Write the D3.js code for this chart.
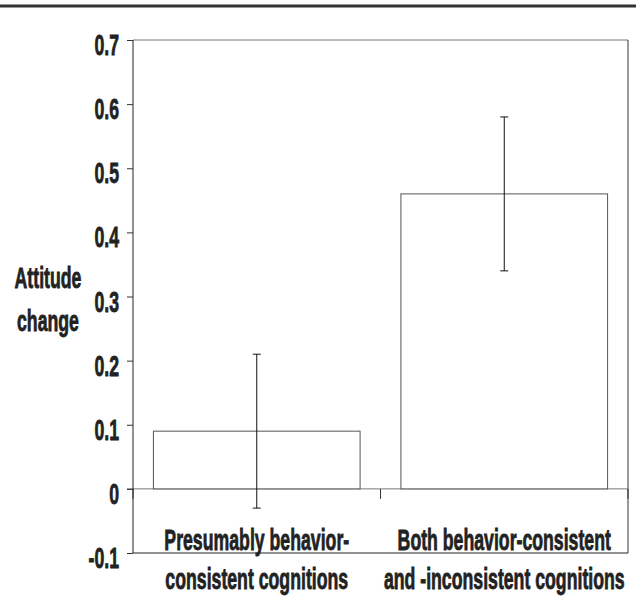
<!DOCTYPE html>
<html>
<head>
<meta charset="utf-8">
<script src="https://cdn.jsdelivr.net/npm/d3@7"></script>
<style>
  body { margin: 0; background: #fff; }
  text { font-family: "Liberation Sans", Arial, sans-serif; font-weight: bold; fill: #222; stroke: #222; stroke-width: 0.8px; }
</style>
</head>
<body>
<svg id="chart" width="636" height="598"></svg>
<script>
// data
const categories = ["Presumably behavior-consistent cognitions", "Both behavior-consistent and -inconsistent cognitions"];
const categoryLines = [
  ["Presumably behavior-", "consistent cognitions"],
  ["Both behavior-consistent", "and -inconsistent cognitions"]
];
const means = [0.09, 0.46];
const errLow = [-0.03, 0.34];
const errHigh = [0.21, 0.58];
const yTicks = [-0.1, 0, 0.1, 0.2, 0.3, 0.4, 0.5, 0.6, 0.7];
const yLabel = ["Attitude", "change"];

const W = 636, H = 598;
const margin = { top: 40, right: 8, bottom: 45, left: 133 };
const fontSize = 29;
const squeeze = 0.61; // condensed type

const svg = d3.select("#chart");

// rule across the top of the page
svg.append("line")
  .attr("x1", 0).attr("x2", W)
  .attr("y1", 6).attr("y2", 6)
  .attr("stroke", "#333")
  .attr("stroke-width", 3);

const x = d3.scaleBand()
  .domain(categories)
  .range([margin.left, W - margin.right])
  .paddingInner(0.165)
  .paddingOuter(0.0825);

const y = d3.scaleLinear()
  .domain([-0.1, 0.7])
  .range([H - margin.bottom, margin.top]);

// frame: top, right, bottom
svg.append("line")
  .attr("x1", margin.left).attr("x2", W - margin.right)
  .attr("y1", y(0.7)).attr("y2", y(0.7))
  .attr("stroke", "#777");
svg.append("line")
  .attr("x1", W - margin.right).attr("x2", W - margin.right)
  .attr("y1", y(0.7)).attr("y2", y(-0.1))
  .attr("stroke", "#333");
svg.append("line")
  .attr("x1", margin.left).attr("x2", W - margin.right)
  .attr("y1", y(-0.1)).attr("y2", y(-0.1))
  .attr("stroke", "#222");

// zero line
svg.append("line")
  .attr("x1", margin.left - 6).attr("x2", W - margin.right)
  .attr("y1", y(0)).attr("y2", y(0))
  .attr("stroke", "#777");

// category ticks on the zero line
const bounds = [margin.left, margin.left + x.step(), margin.left + 2 * x.step()];
svg.selectAll(".ctick")
  .data(bounds)
  .join("line")
  .attr("class", "ctick")
  .attr("x1", d => d).attr("x2", d => d)
  .attr("y1", y(0)).attr("y2", y(0) + 10)
  .attr("stroke", "#333");

// bars
svg.selectAll(".bar")
  .data(categories)
  .join("rect")
  .attr("class", "bar")
  .attr("x", d => x(d))
  .attr("width", x.bandwidth())
  .attr("y", (d, i) => y(means[i]))
  .attr("height", (d, i) => y(0) - y(means[i]))
  .attr("fill", "#fff")
  .attr("stroke", "#555");

// error bars
const err = svg.selectAll(".err")
  .data(categories)
  .join("g")
  .attr("class", "err")
  .attr("stroke", "#111");
err.append("line")
  .attr("x1", d => x(d) + x.bandwidth() / 2)
  .attr("x2", d => x(d) + x.bandwidth() / 2)
  .attr("y1", (d, i) => y(errLow[i]))
  .attr("y2", (d, i) => y(errHigh[i]));
err.append("line")
  .attr("x1", d => x(d) + x.bandwidth() / 2 - 4)
  .attr("x2", d => x(d) + x.bandwidth() / 2 + 4)
  .attr("y1", (d, i) => y(errHigh[i]))
  .attr("y2", (d, i) => y(errHigh[i]));
err.append("line")
  .attr("x1", d => x(d) + x.bandwidth() / 2 - 4)
  .attr("x2", d => x(d) + x.bandwidth() / 2 + 4)
  .attr("y1", (d, i) => y(errLow[i]))
  .attr("y2", (d, i) => y(errLow[i]));

// y axis
const yAxis = svg.append("g")
  .attr("transform", `translate(${margin.left},0)`)
  .call(d3.axisLeft(y)
    .tickValues(yTicks)
    .tickSize(6)
    .tickFormat(d => d === 0 ? "0" : d.toFixed(1)));
yAxis.select(".domain").attr("stroke", "#222").attr("d", `M0,${y(0.7)}V${y(-0.1)}`);
yAxis.selectAll(".tick line").attr("stroke", "#333");
yAxis.selectAll(".tick text")
  .attr("x", null)
  .attr("dy", "0.5em")
  .attr("transform", `translate(-14,0) scale(${squeeze},1)`)
  .style("font-size", fontSize + "px")
  .attr("fill", "#222");

// y label
svg.append("text")
  .attr("transform", `translate(48,0) scale(${squeeze},1)`)
  .attr("text-anchor", "middle")
  .style("font-size", fontSize + "px")
  .selectAll("tspan")
  .data(yLabel)
  .join("tspan")
  .attr("x", 0)
  .attr("y", (d, i) => 288 + i * 43)
  .text(d => d);

// category labels
svg.selectAll(".clabel")
  .data(categories)
  .join("text")
  .attr("class", "clabel")
  .attr("transform", d => `translate(${x(d) + x.bandwidth() / 2},0) scale(${squeeze},1)`)
  .attr("text-anchor", "middle")
  .style("font-size", fontSize + "px")
  .selectAll("tspan")
  .data((d, i) => categoryLines[i])
  .join("tspan")
  .attr("x", 0)
  .attr("y", (d, i) => 550 + i * 39)
  .text(d => d);
</script>
</body>
</html>
